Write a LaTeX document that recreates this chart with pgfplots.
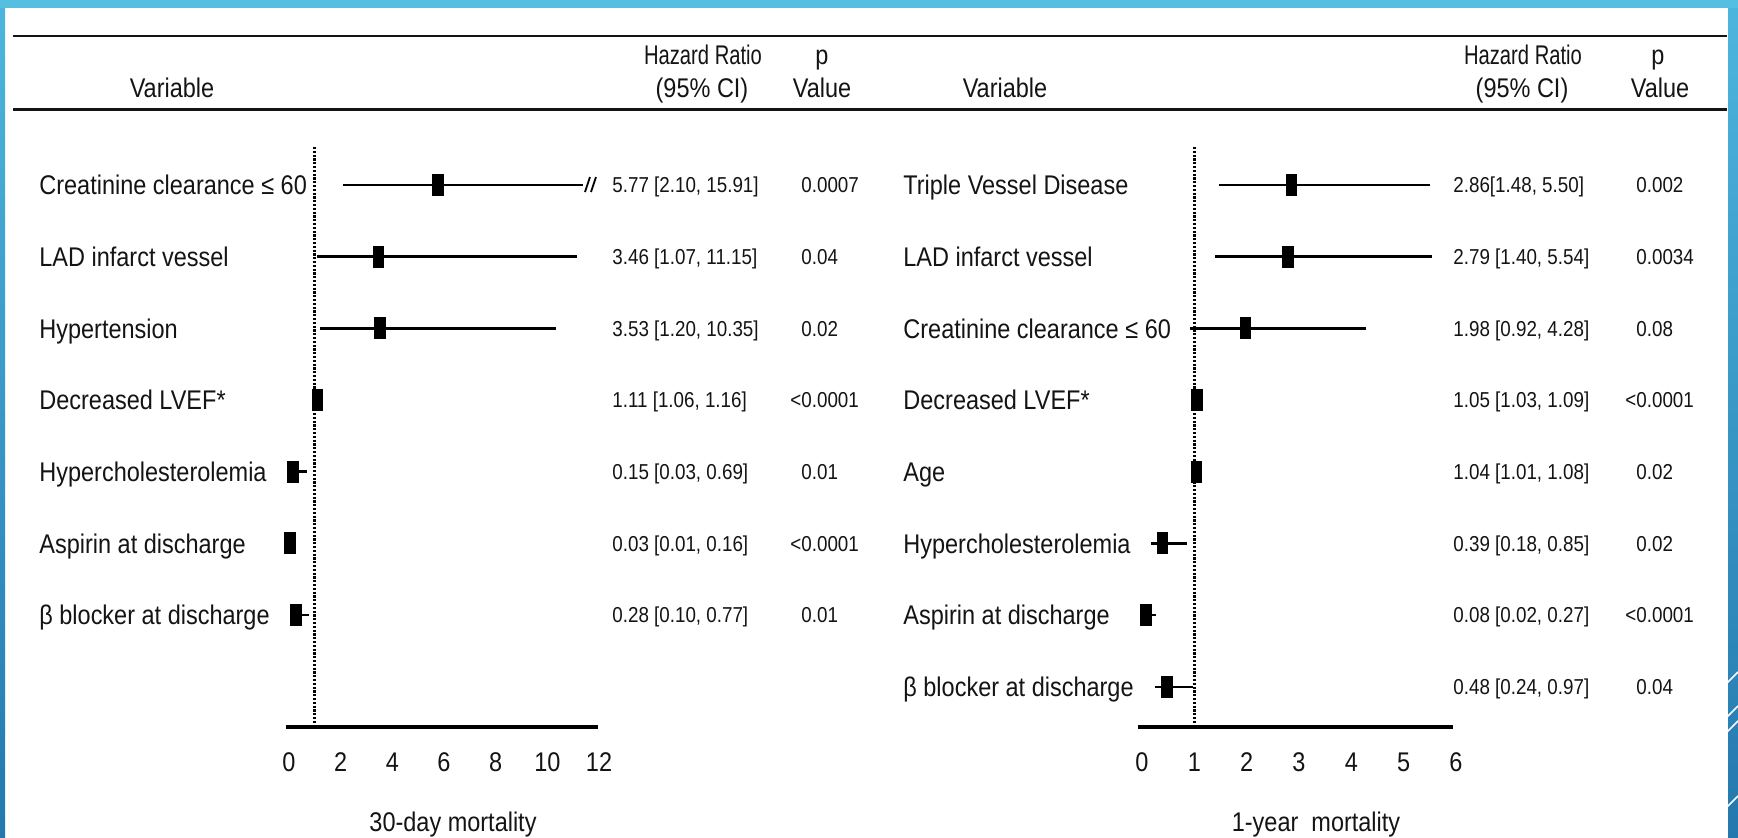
\documentclass[border=0pt]{standalone}
\usepackage{fontspec}
\setmainfont{Liberation Sans}[FakeStretch=0.87]
\usepackage{graphicx}
\usepackage{pgfplots}
\pgfplotsset{compat=1.18}
\usepackage{pgfplotstable}

% hazard ratios with 95% confidence limits, one row per variable (row = -position)
\pgfplotstableread{
row hr lo hi
-1 5.77 2.10 15.91
-2 3.46 1.07 11.15
-3 3.53 1.20 10.35
-4 1.11 1.06 1.16
-5 0.15 0.03 0.69
-6 0.03 0.01 0.16
-7 0.28 0.10 0.77
}\thirtyday

\pgfplotstableread{
row hr lo hi
-1 2.86 1.48 5.50
-2 2.79 1.40 5.54
-3 1.98 0.92 4.28
-4 1.05 1.03 1.09
-5 1.04 1.01 1.08
-6 0.39 0.18 0.85
-7 0.08 0.02 0.27
-8 0.48 0.24 0.97
}\oneyear

% upright filled box for the point estimate
\pgfdeclareplotmark{hrbox}{%
  \pgfpathrectangle{\pgfpoint{-2.9pt}{-5.5pt}}{\pgfpoint{5.8pt}{11pt}}%
  \pgfusepathqfill}

\newcommand\bigfont{\fontsize{13.5}{16}\selectfont}
\newcommand\smallfont{\fontsize{10.8}{13}\selectfont}

\pgfplotsset{
  forest/.style={
    scale only axis, height=290pt,
    ymin=-8.56, ymax=-0.47, enlargelimits=false,
    axis x line*=bottom, axis y line*=left,
    axis line style={draw=none},
    ytick=\empty, major tick length=0pt, tick style={draw=none},
    xticklabel shift=12.8pt,
    xticklabel style={inner sep=0pt, font=\bigfont, text=black!92},
    /pgf/number format/assume math mode=true,
    anchor=south west,
  },
  hrplot/.style={
    only marks, mark=hrbox, black,
    error bars/.cd, x dir=both, x explicit, error mark=none,
    error bar style={line width=1.3pt, black},
  },
  refline/.style={black, line width=1.35pt, dash pattern=on 1.1pt off 0.8pt},
}

\tikzset{
  lab/.style={anchor=west, inner sep=0pt, text height=9.67pt, text depth=0pt,
    font=\bigfont, text=black!92},
  val/.style={anchor=west, inner sep=0pt, text height=7.73pt, text depth=0pt,
    font=\smallfont, text=black!92},
  head/.style={anchor=base, inner sep=0pt, font=\bigfont, text=black!92},
}

\definecolor{bandtop}{HTML}{55BFE2}
\definecolor{stripA}{HTML}{4DB6DE}
\definecolor{stripB}{HTML}{2478AE}

\begin{document}
\begin{tikzpicture}

% slide frame and white page
\begin{scope}[x=0.5pt, y=-0.5pt]
  \fill[white] (0,0) rectangle (1738,837);
  \fill[top color=stripA, bottom color=stripB] (0,0) rectangle (5,837);
  \fill[top color=stripA, bottom color=stripB] (1728,0) rectangle (1738,837);
  \fill[bandtop] (0,0) rectangle (1738,8);
  \foreach \yy in {683,717,732,807}
    \draw[white, line width=0.8pt] (1727,\yy) -- (1738,\yy-11);
\end{scope}

% 30-day mortality
\begin{axis}[forest, at={(144.5pt,-363.5pt)}, width=155pt,
  xmin=0, xmax=12, xtick={0,2,...,12}]
  \addplot[refline] coordinates {(1,-0.47) (1,-8.56)};
  \addplot[hrplot] table[x=hr, y=row,
    x error plus expr=\thisrow{hi}-\thisrow{hr},
    x error minus expr=\thisrow{hr}-\thisrow{lo}] {\thirtyday};
\end{axis}

% 1-year mortality
\begin{axis}[forest, at={(571pt,-363.5pt)}, width=157pt,
  xmin=0, xmax=6, xtick={0,...,6}]
  \addplot[refline] coordinates {(1,-0.47) (1,-8.56)};
  \addplot[hrplot] table[x=hr, y=row,
    x error plus expr=\thisrow{hi}-\thisrow{hr},
    x error minus expr=\thisrow{hr}-\thisrow{lo}] {\oneyear};
\end{axis}

\begin{scope}[x=0.5pt, y=-0.5pt]
  % table rules
  \draw[black!92, line width=1.3pt] (13,36) -- (1727,36);
  \draw[black!92, line width=1.5pt] (13,109) -- (1727,109);

  % horizontal axis lines
  \draw[black, line width=2pt] (286,727) -- (598,727);
  \draw[black, line width=2pt] (1138,727) -- (1453,727);

  % break in the off-scale upper limit
  \fill[white] (583,172) rectangle (604,198);
  \draw[black, line width=0.9pt] (585,192) -- (590,177);
  \draw[black, line width=0.9pt] (591,192) -- (596,177);

  % column headings
  \node[head] at (172,97) {Variable};
  \node[head] at (703,64) {\scalebox{0.86}[1]{Hazard Ratio}};
  \node[head] at (702,97) {(95\% CI)};
  \node[head] at (822,64) {p};
  \node[head] at (822,97) {Value};
  \node[head] at (1005,97) {Variable};
  \node[head] at (1523,64) {\scalebox{0.86}[1]{Hazard Ratio}};
  \node[head] at (1522,97) {(95\% CI)};
  \node[head] at (1658,64) {p};
  \node[head] at (1660,97) {Value};

  % 30-day mortality rows
  \node[lab] at (39,185.0) {Creatinine clearance ≤ 60};
  \node[lab] at (39,256.7) {LAD infarct vessel};
  \node[lab] at (39,328.4) {Hypertension};
  \node[lab] at (39,400.1) {Decreased LVEF*};
  \node[lab] at (39,471.8) {Hypercholesterolemia};
  \node[lab] at (39,543.5) {Aspirin at discharge};
  \node[lab] at (39,615.2) {β blocker at discharge};

  \node[val] at (612,185.0) {5.77 [2.10, 15.91]};
  \node[val] at (612,256.7) {3.46 [1.07, 11.15]};
  \node[val] at (612,328.4) {3.53 [1.20, 10.35]};
  \node[val] at (612,400.1) {1.11 [1.06, 1.16]};
  \node[val] at (612,471.8) {0.15 [0.03, 0.69]};
  \node[val] at (612,543.5) {0.03 [0.01, 0.16]};
  \node[val] at (612,615.2) {0.28 [0.10, 0.77]};

  \node[val] at (801,185.0) {0.0007};
  \node[val] at (801,256.7) {0.04};
  \node[val] at (801,328.4) {0.02};
  \node[val] at (801,400.1) {\llap{<}0.0001};
  \node[val] at (801,471.8) {0.01};
  \node[val] at (801,543.5) {\llap{<}0.0001};
  \node[val] at (801,615.2) {0.01};

  % 1-year mortality rows
  \node[lab] at (903,185.0) {Triple Vessel Disease};
  \node[lab] at (903,256.7) {LAD infarct vessel};
  \node[lab] at (903,328.4) {Creatinine clearance ≤ 60};
  \node[lab] at (903,400.1) {Decreased LVEF*};
  \node[lab] at (903,471.8) {Age};
  \node[lab] at (903,543.5) {Hypercholesterolemia};
  \node[lab] at (903,615.2) {Aspirin at discharge};
  \node[lab] at (903,686.9) {β blocker at discharge};

  \node[val] at (1453,185.0) {2.86[1.48, 5.50]};
  \node[val] at (1453,256.7) {2.79 [1.40, 5.54]};
  \node[val] at (1453,328.4) {1.98 [0.92, 4.28]};
  \node[val] at (1453,400.1) {1.05 [1.03, 1.09]};
  \node[val] at (1453,471.8) {1.04 [1.01, 1.08]};
  \node[val] at (1453,543.5) {0.39 [0.18, 0.85]};
  \node[val] at (1453,615.2) {0.08 [0.02, 0.27]};
  \node[val] at (1453,686.9) {0.48 [0.24, 0.97]};

  \node[val] at (1636,185.0) {0.002};
  \node[val] at (1636,256.7) {0.0034};
  \node[val] at (1636,328.4) {0.08};
  \node[val] at (1636,400.1) {\llap{<}0.0001};
  \node[val] at (1636,471.8) {0.02};
  \node[val] at (1636,543.5) {0.02};
  \node[val] at (1636,615.2) {\llap{<}0.0001};
  \node[val] at (1636,686.9) {0.04};

  % panel titles
  \node[head] at (453,831) {30-day mortality};
  \node[head] at (1316,831) {1-year\ \ mortality};

  \pgfresetboundingbox
  \path[use as bounding box] (0,0) rectangle (1738,837);
\end{scope}
\end{tikzpicture}
\end{document}
